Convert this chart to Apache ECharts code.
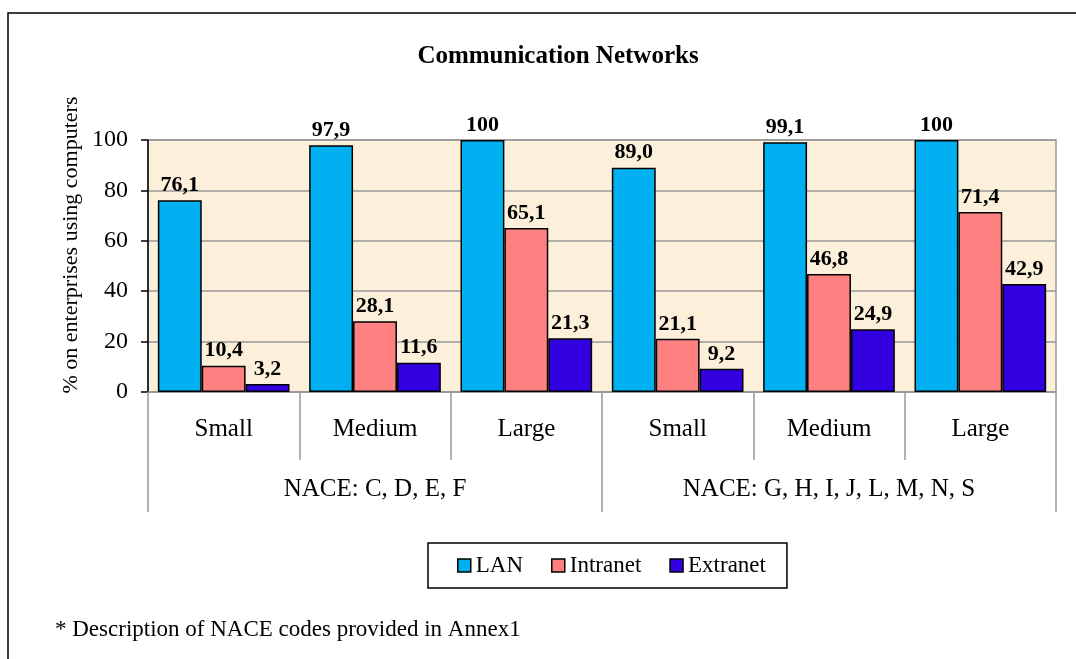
<!DOCTYPE html>
<html>
<head>
<meta charset="utf-8">
<script src="https://cdn.jsdelivr.net/npm/echarts@6/dist/echarts.min.js"></script>
<style>html,body{margin:0;padding:0;background:#fff;}#c{width:1076px;height:659px;}</style>
</head>
<body>
<div id="c"></div>
<script>
const sizes = ['Small', 'Medium', 'Large', 'Small', 'Medium', 'Large'];
const groups = ['NACE: C, D, E, F', 'NACE: G, H, I, J, L, M, N, S'];
const lan = [76.1, 97.9, 100, 89.0, 99.1, 100];
const intranet = [10.4, 28.1, 65.1, 21.1, 46.8, 71.4];
const extranet = [3.2, 11.6, 21.3, 9.2, 24.9, 42.9];
const seriesNames = ['LAN', 'Intranet', 'Extranet'];
const colors = ['#00B0F0', '#FF8080', '#3300E0'];
const yTicks = [0, 20, 40, 60, 80, 100];

const serif = '"Liberation Serif", "Times New Roman", serif';
const fmt = v => (v === 100 ? '100' : v.toFixed(1).replace('.', ','));

const chart = echarts.init(document.getElementById('c'));
const mk = (name, data, color) => ({
  name, type: 'bar', data, xAxisIndex: 0,
  barGap: '0%', barCategoryGap: '13%',
  itemStyle: { color, borderColor: '#000', borderWidth: 1.5 },
  label: {
    show: true, position: 'top', distance: 4,
    fontFamily: serif, fontWeight: 'bold', fontSize: 22, color: '#000',
    formatter: p => fmt(p.value)
  }
});
chart.setOption({
  animation: false,
  backgroundColor: '#fff',
  grid: {
    left: 148, right: 20, top: 140, bottom: 267,
    show: true, backgroundColor: '#FCF0DA', borderColor: '#999', borderWidth: 1.5
  },
  legend: {
    left: 428, top: 543,
    padding: [11, 21, 11, 29], itemGap: 28,
    borderColor: '#000', borderWidth: 1.5,
    icon: 'rect', itemWidth: 13, itemHeight: 13, itemStyle: { borderColor: '#000', borderWidth: 1.5 },
    textStyle: { fontFamily: serif, fontSize: 23, color: '#000' },
    data: seriesNames
  },
  xAxis: [
    {
      type: 'category', data: sizes, position: 'bottom',
      axisLine: { show: true, lineStyle: { color: '#999', width: 1.5 } },
      axisTick: { show: true, interval: 0, length: 68, lineStyle: { color: '#999', width: 1.5 } },
      axisLabel: { interval: 0, margin: 25, fontFamily: serif, fontSize: 25, color: '#000' }
    },
    {
      type: 'category', data: groups, position: 'bottom',
      axisLine: { show: false },
      axisTick: { show: true, interval: 0, length: 120, lineStyle: { color: '#999', width: 1.5 } },
      axisLabel: { interval: 0, margin: 85, fontFamily: serif, fontSize: 25, color: '#000' }
    }
  ],
  yAxis: {
    type: 'value', min: yTicks[0], max: yTicks[yTicks.length - 1], interval: 20,
    axisLine: { show: true, lineStyle: { color: '#000', width: 1.5 } },
    axisTick: { show: true, length: 7, lineStyle: { color: '#000', width: 1.5 } },
    axisLabel: { fontFamily: serif, fontSize: 24, color: '#000', margin: 20 },
    splitLine: { show: true, lineStyle: { color: '#999', width: 1.5 } }
  },
  series: [
    mk(seriesNames[0], lan, colors[0]),
    mk(seriesNames[1], intranet, colors[1]),
    mk(seriesNames[2], extranet, colors[2])
  ],
  graphic: [
    { type: 'rect', shape: { x: 8, y: 13, width: 1200, height: 800 }, style: { fill: null, stroke: '#000', lineWidth: 1.5 }, silent: true, z: -1 },
    { type: 'text', x: 558, y: 57, style: { text: 'Communication Networks', fontFamily: serif, fontWeight: 'bold', fontSize: 25, fill: '#000', textAlign: 'center', textVerticalAlign: 'middle' } },
    { type: 'text', x: 71, y: 245, rotation: Math.PI / 2, style: { text: '% on enterprises using computers', fontFamily: serif, fontSize: 22, fill: '#000', textAlign: 'center', textVerticalAlign: 'middle' } },
    { type: 'text', x: 55, y: 630, style: { text: '* Description of NACE codes provided in Annex1', fontFamily: serif, fontSize: 23, fill: '#000', textAlign: 'left', textVerticalAlign: 'middle' } }
  ]
});
</script>
</body>
</html>
